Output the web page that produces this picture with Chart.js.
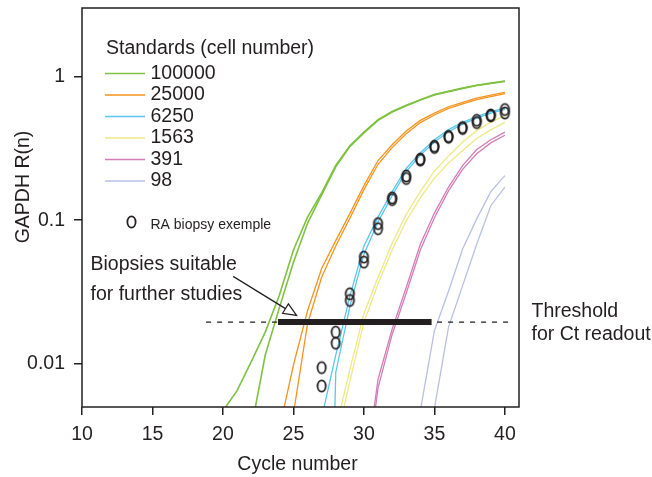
<!DOCTYPE html>
<html>
<head>
<meta charset="utf-8">
<script src="https://cdn.jsdelivr.net/npm/chart.js@4.4.1/dist/chart.umd.min.js"></script>
<style>
  html, body { margin: 0; padding: 0; background: #fff; }
  canvas { display: block; }
</style>
</head>
<body>
<canvas id="pcr" width="652" height="477"></canvas>
<script>
// PCR amplification curves, GAPDH standards vs. RA biopsy sample

var cycles = [20, 21, 22, 23, 24, 25, 26, 27, 28, 29, 30, 31, 32, 33, 34, 35, 36, 37, 38, 39, 40];

var std100000a = [0.0047, 0.0065, 0.0103, 0.0166, 0.030, 0.062, 0.105, 0.155, 0.24, 0.33, 0.41, 0.50, 0.57, 0.63, 0.69, 0.75, 0.79, 0.83, 0.87, 0.90, 0.93];
var std100000b = [null, null, 0.0035, 0.0115, 0.0245, 0.051, 0.095, 0.15, 0.235, 0.325, 0.405, 0.495, 0.565, 0.625, 0.685, 0.745, 0.785, 0.825, 0.865, 0.895, 0.925];
var std25000a = [null, null, null, null, 0.0035, 0.0098, 0.0234, 0.046, 0.072, 0.111, 0.174, 0.26, 0.335, 0.417, 0.495, 0.556, 0.616, 0.66, 0.708, 0.741, 0.776];
var std25000b = [null, null, null, null, null, 0.0045, 0.019, 0.040, 0.066, 0.103, 0.163, 0.245, 0.32, 0.40, 0.478, 0.54, 0.60, 0.645, 0.69, 0.725, 0.76];
var std6250a = [null, null, null, null, null, null, null, 0.0042, 0.0115, 0.0295, 0.066, 0.105, 0.158, 0.229, 0.295, 0.363, 0.427, 0.479, 0.525, 0.569, 0.603];
var std6250b = [null, null, null, null, null, null, null, 0.000001, 0.0087, 0.025, 0.058, 0.097, 0.148, 0.218, 0.283, 0.35, 0.413, 0.466, 0.513, 0.556, 0.59];
var std1563a = [null, null, null, null, null, null, null, null, 0.0035, 0.0091, 0.0224, 0.040, 0.069, 0.11, 0.158, 0.219, 0.28, 0.35, 0.42, 0.48, 0.537];
var std1563b = [null, null, null, null, null, null, null, null, 0.0028, 0.0075, 0.0195, 0.036, 0.062, 0.099, 0.143, 0.196, 0.25, 0.305, 0.37, 0.425, 0.48];
var std391a = [null, null, null, null, null, null, null, null, null, null, 0.0015, 0.0078, 0.0174, 0.034, 0.068, 0.112, 0.17, 0.24, 0.31, 0.363, 0.41];
var std391b = [null, null, null, null, null, null, null, null, null, null, 0.0012, 0.0068, 0.016, 0.031, 0.062, 0.104, 0.16, 0.226, 0.29, 0.345, 0.39];
var std98a = [null, null, null, null, null, null, null, null, null, null, null, null, null, null, 0.0047, 0.017, 0.032, 0.063, 0.102, 0.158, 0.204];
var std98b = [null, null, null, null, null, null, null, null, null, null, null, null, null, null, null, 0.0049, 0.018, 0.035, 0.068, 0.126, 0.17];

var standardNames = ['100000', '25000', '6250', '1563', '391', '98'];
var standardColors = ['#7fc241', '#f7931e', '#5dc5ee', '#efe985', '#d47db6', '#b9c0e6'];

var raCycles = [27, 28, 29, 30, 31, 32, 33, 34, 35, 36, 37, 38, 39, 40];
var raBiopsyA = [0.0094, 0.0166, 0.0307, 0.0553, 0.0946, 0.143, 0.203, 0.266, 0.327, 0.383, 0.441, 0.496, 0.54, 0.589];
var raBiopsyB = [0.0070, 0.0139, 0.0276, 0.051, 0.0872, 0.139, 0.195, 0.262, 0.321, 0.378, 0.435, 0.478, 0.532, 0.557];

var threshold = 0.0195;
var thresholdSpan = [18.8, 40.6];
var suitableSpan = [23.9, 34.8];

var xTicks = [10, 15, 20, 25, 30, 35, 40];
var yTicks = [0.01, 0.1, 1];
var yTickLabels = ['0.01', '0.1', '1'];

var INK = '#231f20';
var FONT = '"Liberation Sans", Arial, Helvetica, sans-serif';

function toPoints(xs, ys) {
  var pts = [];
  for (var i = 0; i < xs.length; i++) {
    if (ys[i] !== null) pts.push({ x: xs[i], y: ys[i] });
  }
  return pts;
}

// open ellipse used for the biopsy sample points
var ring = document.createElement('canvas');
ring.width = 13;
ring.height = 16;
(function () {
  var c = ring.getContext('2d');
  c.strokeStyle = INK;
  c.lineWidth = 1.8;
  c.beginPath();
  c.ellipse(6.5, 8, 4.1, 5.6, 0, 0, Math.PI * 2);
  c.stroke();
})();

var replicates = [
  [std100000a, std100000b], [std25000a, std25000b], [std6250a, std6250b],
  [std1563a, std1563b], [std391a, std391b], [std98a, std98b]
];

var datasets = [];
datasets.push({
  label: 'RA biopsy exemple', data: toPoints(raCycles, raBiopsyA), showLine: false,
  pointStyle: ring, pointRadius: 6, order: 0
});
datasets.push({
  label: 'RA biopsy exemple 2', data: toPoints(raCycles, raBiopsyB), showLine: false,
  pointStyle: ring, pointRadius: 6, order: 0
});
datasets.push({
  label: 'suitable', data: [{ x: suitableSpan[0], y: threshold }, { x: suitableSpan[1], y: threshold }],
  borderColor: INK, borderWidth: 6, borderCapStyle: 'butt', pointRadius: 0, order: 1
});
datasets.push({
  label: 'threshold', data: [{ x: thresholdSpan[0], y: threshold }, { x: thresholdSpan[1], y: threshold }],
  borderColor: INK, borderWidth: 1.3, borderDash: [5, 6], pointRadius: 0, order: 2
});
replicates.forEach(function (pair, i) {
  pair.forEach(function (vals) {
    datasets.push({
      label: standardNames[i], data: toPoints(cycles, vals),
      borderColor: standardColors[i], borderWidth: i === 0 ? 1.6 : 1.3,
      pointRadius: 0, tension: 0, order: 3
    });
  });
});

function drawArrow(c, x1, y1, x2, y2) {
  var ang = Math.atan2(y2 - y1, x2 - x1);
  var len = 13, half = 5.5;
  var bx = x2 - len * Math.cos(ang), by = y2 - len * Math.sin(ang);
  c.beginPath();
  c.moveTo(x1, y1);
  c.lineTo(bx, by);
  c.stroke();
  c.beginPath();
  c.moveTo(x2, y2);
  c.lineTo(bx + half * Math.sin(ang), by - half * Math.cos(ang));
  c.lineTo(bx - half * Math.sin(ang), by + half * Math.cos(ang));
  c.closePath();
  c.fillStyle = '#fff';
  c.fill();
  c.stroke();
}

var decorations = {
  id: 'decorations',
  afterDraw: function (chart) {
    var c = chart.ctx, a = chart.chartArea;
    var xs = chart.scales.x, ys = chart.scales.y;
    c.save();
    c.strokeStyle = INK;
    c.fillStyle = INK;
    c.lineWidth = 1.5;
    c.strokeRect(a.left, a.top, a.right - a.left, a.bottom - a.top);

    // legend
    c.textBaseline = 'middle';
    c.textAlign = 'left';
    c.font = '19.5px ' + FONT;
    c.fillText('Standards (cell number)', a.left + 24, a.top + 41);
    standardNames.forEach(function (name, i) {
      var y = a.top + 65.5 + i * 21.5;
      c.strokeStyle = standardColors[i];
      c.lineWidth = 1.5;
      c.beginPath();
      c.moveTo(a.left + 23, y);
      c.lineTo(a.left + 63, y);
      c.stroke();
      c.fillStyle = INK;
      c.fillText(name, a.left + 68.5, y);
    });
    c.drawImage(ring, a.left + 43, a.top + 206);
    c.font = '14px ' + FONT;
    c.fillText('RA biopsy exemple', a.left + 68.5, a.top + 217);

    // annotations
    c.font = '19.5px ' + FONT;
    c.fillText('Biopsies suitable', a.left + 8.5, a.top + 257);
    c.fillText('for further studies', a.left + 8.5, a.top + 287);
    c.fillText('Threshold', a.right + 12.5, a.top + 304);
    c.fillText('for Ct readout', a.right + 12.5, a.top + 327);

    c.strokeStyle = INK;
    c.lineWidth = 1.2;
    drawArrow(c, xs.getPixelForValue(20.72), ys.getPixelForValue(0.0406),
      xs.getPixelForValue(25.22), ys.getPixelForValue(0.0217));

    // axis titles
    c.fillStyle = INK;
    c.textAlign = 'center';
    c.fillText('Cycle number', (a.left + a.right) / 2 - 3, a.bottom + 58);
    c.translate(24, a.top + 179);
    c.rotate(-Math.PI / 2);
    c.fillText('GAPDH R(n)', 0, 0);
    c.restore();
  }
};

var tickFont = { family: FONT, size: 19.5 };

new Chart(document.getElementById('pcr'), {
  type: 'line',
  data: { datasets: datasets },
  options: {
    responsive: false,
    animation: false,
    events: [],
    layout: { padding: { top: 8, right: 133, left: 0, bottom: 0 } },
    plugins: { legend: { display: false }, tooltip: { enabled: false } },
    scales: {
      x: {
        type: 'linear', min: 10, max: 41,
        afterBuildTicks: function (s) { s.ticks = xTicks.map(function (v) { return { value: v }; }); },
        afterFit: function (s) { s.height = 70; s.paddingLeft = 0; s.paddingRight = 0; },
        border: { display: false },
        grid: { drawOnChartArea: false, drawTicks: true, tickLength: 8, color: INK, lineWidth: 1.5 },
        ticks: { font: tickFont, color: INK, padding: 8, maxRotation: 0 }
      },
      y: {
        type: 'logarithmic', min: 0.005, max: 3,
        afterBuildTicks: function (s) { s.ticks = yTicks.map(function (v) { return { value: v }; }); },
        afterFit: function (s) { s.width = 82; s.paddingTop = 0; s.paddingBottom = 0; },
        border: { display: false },
        grid: { drawOnChartArea: false, drawTicks: true, tickLength: 8, color: INK, lineWidth: 1.5 },
        ticks: {
          font: tickFont, color: INK, padding: 9,
          callback: function (v) { var k = yTicks.indexOf(v); return k >= 0 ? yTickLabels[k] : ''; }
        }
      }
    }
  },
  plugins: [decorations]
});
</script>
</body>
</html>
